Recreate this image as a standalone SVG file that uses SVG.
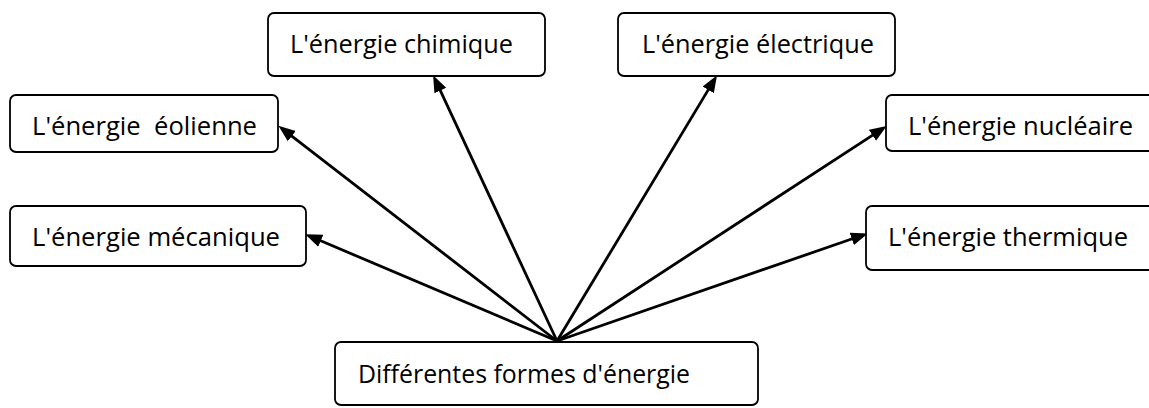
<svg xmlns="http://www.w3.org/2000/svg" width="1149" height="408" viewBox="0 0 1149 408">
<style>
.box{fill:#fff;stroke:#000;stroke-width:1.8}
.lbl{font-family:"Open Sans","Noto Sans","Liberation Sans",sans-serif;font-size:26px;fill:#000}
.conn{stroke:#000;stroke-width:2.8;fill:none;marker-end:url(#ah)}
</style>
<defs>
<marker id="ah" markerUnits="userSpaceOnUse" markerWidth="18" markerHeight="14" refX="9" refY="7" orient="auto" viewBox="0 0 18 14">
<path d="M0,0.5 L17,7 L0,13.5 z" fill="#000"/>
</marker>
</defs>
<rect width="1149" height="408" fill="#fff"/>
<g id="connectors">
<line class="conn" x1="557" y1="341" x2="284.7" y2="130.7"/>
<line class="conn" x1="557" y1="341" x2="312.5" y2="237.3"/>
<line class="conn" x1="557" y1="341" x2="436.5" y2="82.4"/>
<line class="conn" x1="557" y1="341" x2="712.9" y2="82.1"/>
<line class="conn" x1="557" y1="341" x2="880" y2="130.3"/>
<line class="conn" x1="557" y1="341" x2="860.3" y2="236"/>
</g>
<g id="node-eolienne">
<rect class="box" x="10" y="95" width="268" height="57" rx="6"/>
<text class="lbl" x="32" y="135" textLength="225" lengthAdjust="spacingAndGlyphs" xml:space="preserve">L'énergie  éolienne</text>
</g>
<g id="node-mecanique">
<rect class="box" x="10" y="206" width="296" height="60" rx="6"/>
<text class="lbl" x="32" y="246" textLength="248" lengthAdjust="spacingAndGlyphs">L'énergie mécanique</text>
</g>
<g id="node-chimique">
<rect class="box" x="268" y="13" width="277" height="63" rx="6"/>
<text class="lbl" x="290" y="53" textLength="223" lengthAdjust="spacingAndGlyphs">L'énergie chimique</text>
</g>
<g id="node-electrique">
<rect class="box" x="618" y="13" width="277" height="63" rx="6"/>
<text class="lbl" x="642" y="53" textLength="232" lengthAdjust="spacingAndGlyphs">L'énergie électrique</text>
</g>
<g id="node-nucleaire">
<rect class="box" x="886" y="95" width="290" height="56" rx="6"/>
<text class="lbl" x="908" y="135" textLength="225" lengthAdjust="spacingAndGlyphs">L'énergie nucléaire</text>
</g>
<g id="node-thermique">
<rect class="box" x="866" y="206" width="310" height="64" rx="6"/>
<text class="lbl" x="888" y="246" textLength="240" lengthAdjust="spacingAndGlyphs">L'énergie thermique</text>
</g>
<g id="node-formes">
<rect class="box" x="335" y="342" width="423" height="63" rx="6"/>
<text class="lbl" x="358" y="383" textLength="332" lengthAdjust="spacingAndGlyphs">Différentes formes d'énergie</text>
</g>
</svg>
